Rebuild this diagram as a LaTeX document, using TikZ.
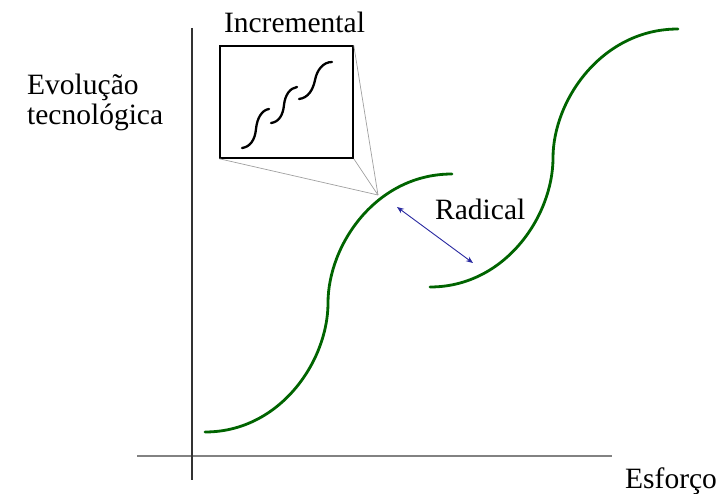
\documentclass[tikz,border=0pt]{standalone}
\usepackage{fontspec}
\setmainfont{Liberation Serif}
\usetikzlibrary{arrows.meta}
\definecolor{curvegreen}{RGB}{0,100,0}
\definecolor{arrowblue}{RGB}{40,40,160}
\definecolor{axisgray}{RGB}{130,130,130}
\definecolor{zoomgray}{RGB}{160,160,160}
\begin{document}
\begin{tikzpicture}[x=1pt,y=-1pt,
  lbl/.style={font=\fontsize{29.5}{32}\selectfont, inner sep=0pt, text=black},
  scurve/.style={curvegreen, line width=2.8pt, line cap=round},
  mini/.style={black, line width=2.3pt, line cap=round},
  zoomline/.style={zoomgray, line width=0.7pt},
  radarrow/.style={arrowblue, line width=0.9pt, {Stealth[length=7pt,width=5.5pt]}-{Stealth[length=7pt,width=5.5pt]}}
]
\path[use as bounding box] (0,0) rectangle (725,494);

% axes
\coordinate (vtop) at (192,28);
\coordinate (vbot) at (192,480);
\coordinate (hl) at (137,456);
\coordinate (hr) at (612,456);
\draw[axisgray, line width=2pt] (hl) -- (hr);
\draw[black!80, line width=2pt] (vtop) -- (vbot);

% labels
\node[lbl, anchor=base west] (evo) at (27,95) {Evolução};
\node[lbl, anchor=base west] (tec) at (27,125) {tecnológica};
\node[lbl, anchor=base west] (esf) at (625,488) {Esforço};
\node[lbl, anchor=base] (inc) at (294.5,33) {Incremental};
\node[lbl, anchor=base west] (rad) at (435,220) {Radical};

% S-curves
\coordinate (c1s) at (205,432);
\coordinate (c1e) at (452,174);
\coordinate (c2s) at (430,287);
\coordinate (c2e) at (678,29);
\draw[scurve] (c1s) .. controls (280,432) and (328,361) .. (328,303)
                    .. controls (328,245) and (376,174) .. (c1e);
\draw[scurve] (c2s) .. controls (505,287) and (553,216) .. (553,158)
                    .. controls (553,100) and (602,29) .. (c2e);

% zoom box
\coordinate (touch) at (378,195);
\node[draw=black, line width=1.5pt, minimum width=133pt, minimum height=112pt, inner sep=0pt] (box) at (286.5,102) {};
\draw[zoomline] (box.south west) -- (touch);
\draw[zoomline] (box.south east) -- (touch);
\draw[zoomline] (box.north east) -- (touch);

% mini curves
\draw[mini] (242,148) .. controls (250,147) and (255,140) .. (256,129)
                      .. controls (257,118) and (262,110) .. (269,109);
\draw[mini] (271,123) .. controls (279,122) and (283,115) .. (284,105)
                      .. controls (285,95) and (290,88) .. (297,87);
\draw[mini] (299,99) .. controls (308,98) and (313,90) .. (315,80)
                     .. controls (317,70) and (323,62) .. (332,62);

% radical arrow
\coordinate (ra) at (397,207);
\coordinate (rb) at (473,263);
\draw[radarrow] (ra) -- (rb);
\end{tikzpicture}
\end{document}
